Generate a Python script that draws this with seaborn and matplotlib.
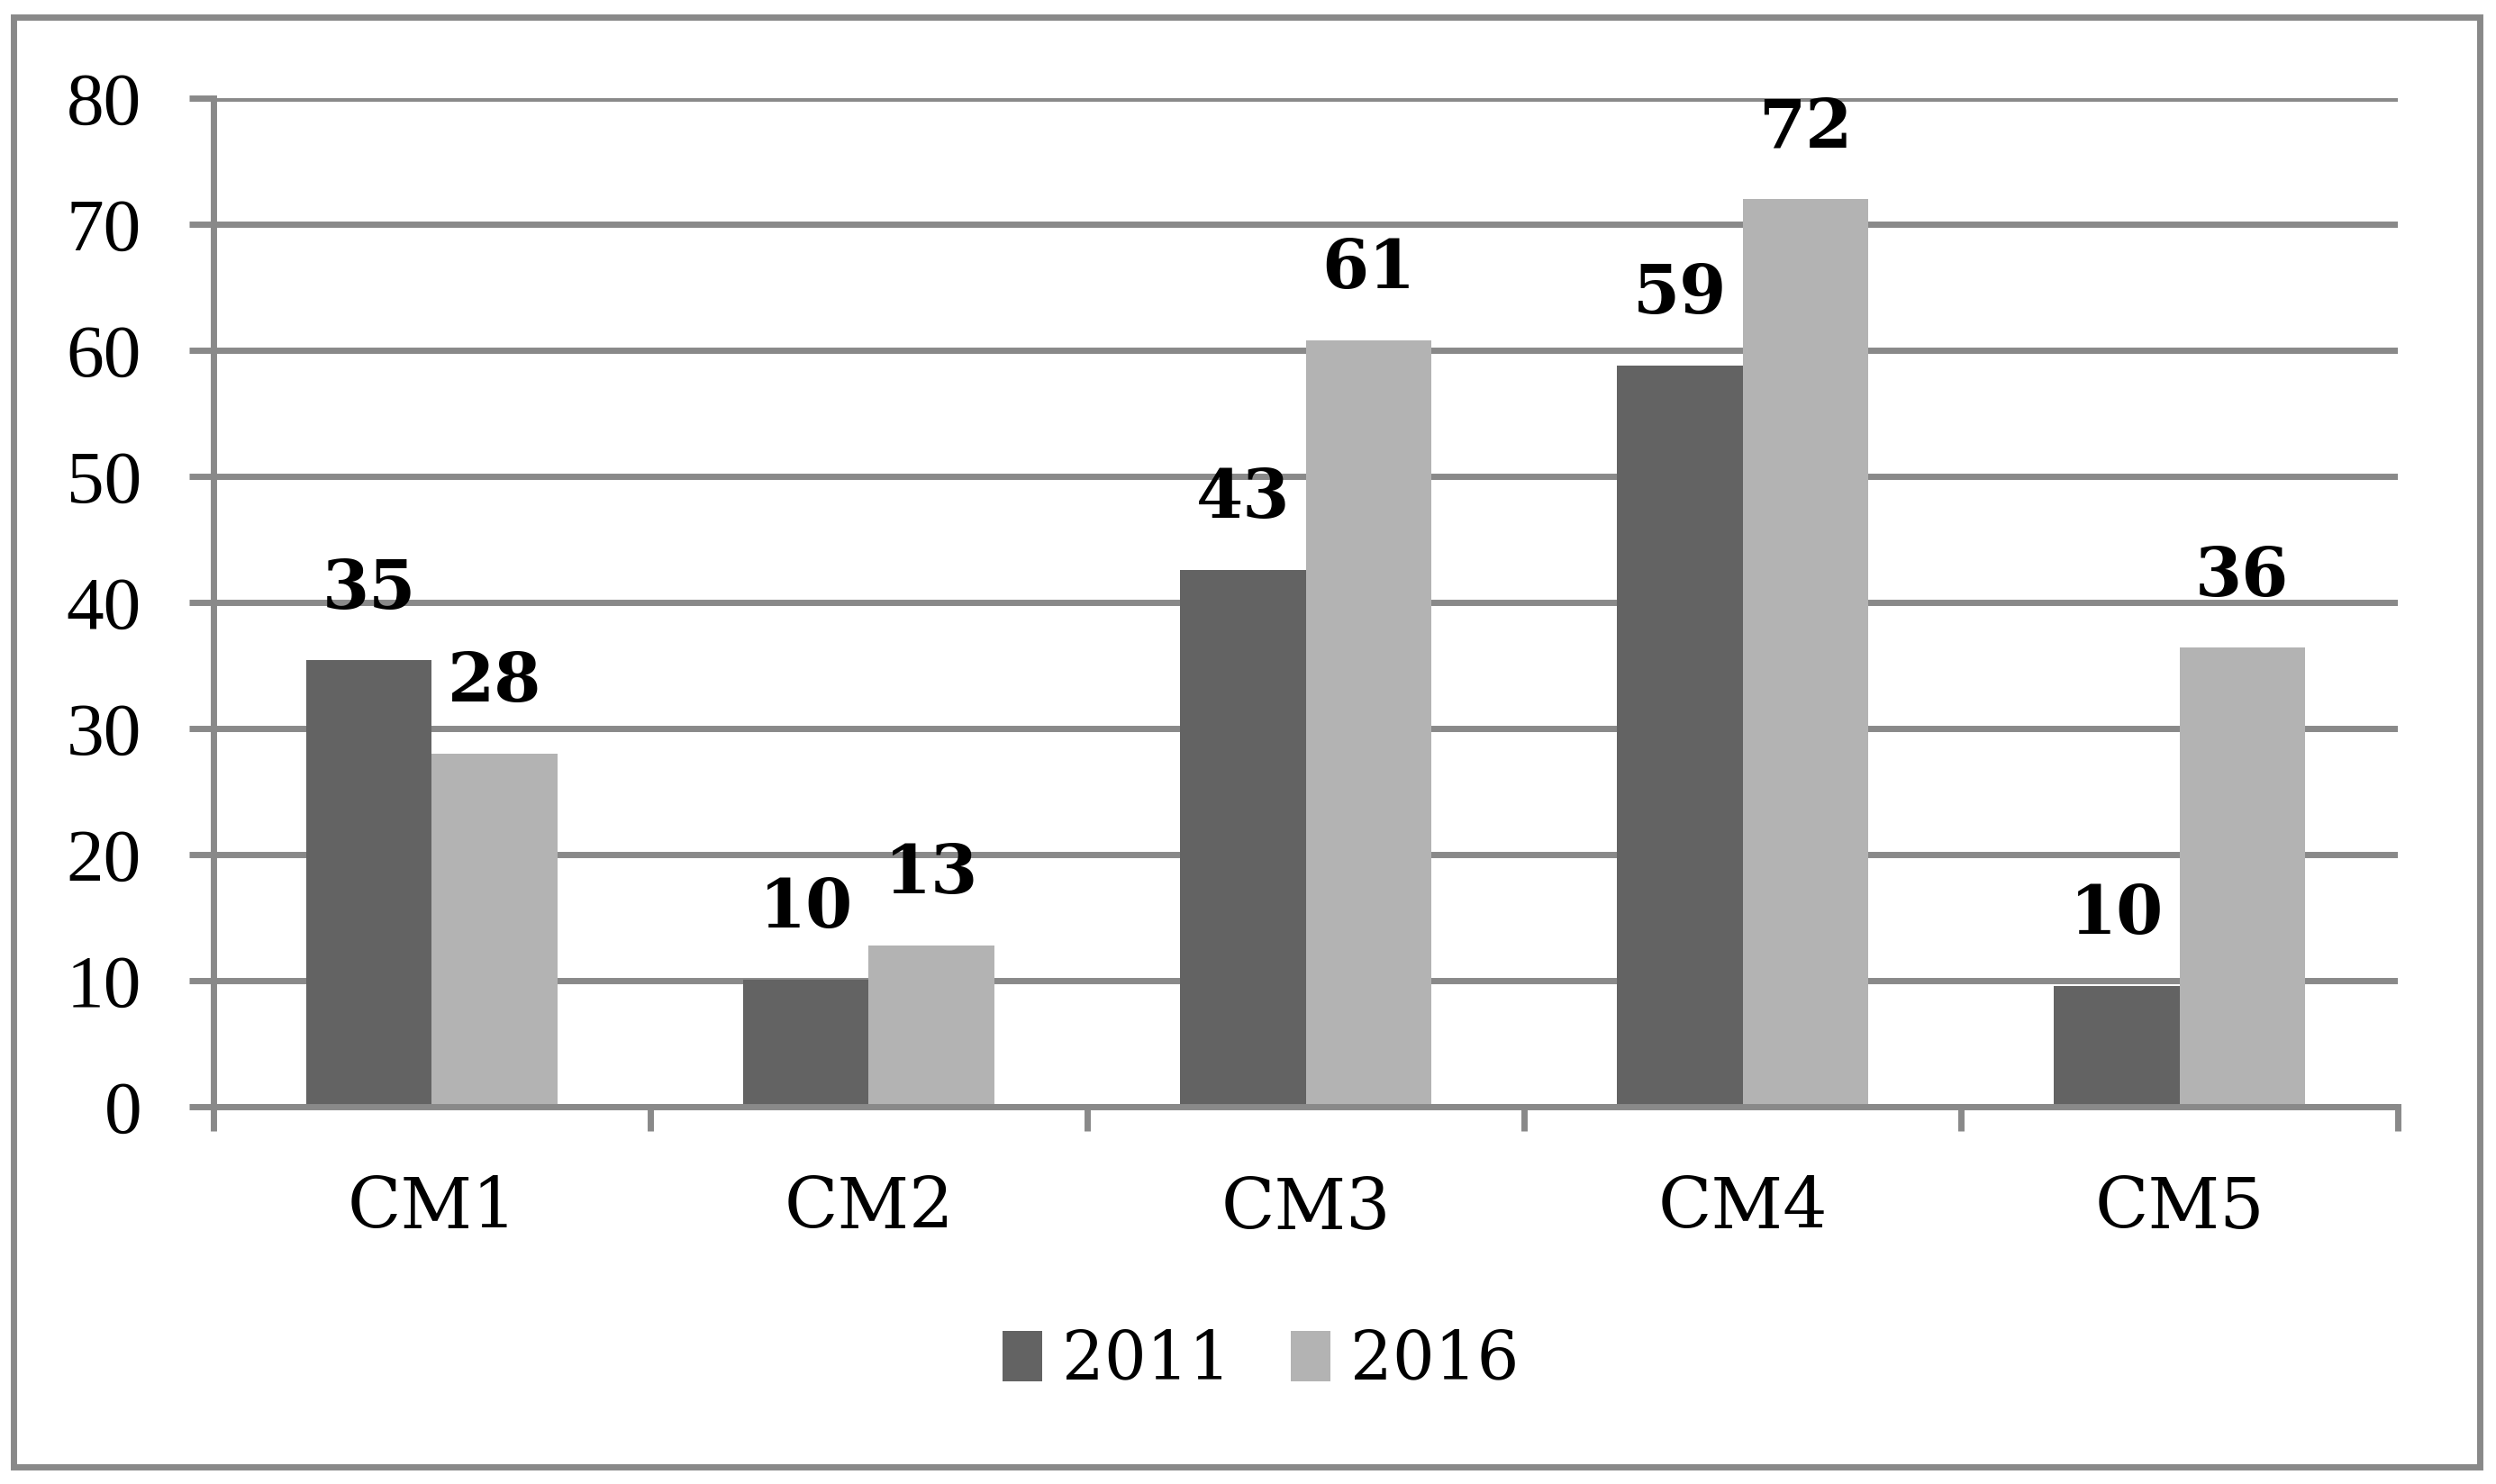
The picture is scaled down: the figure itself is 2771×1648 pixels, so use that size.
import pandas as pd
import seaborn as sns
import matplotlib.pyplot as plt
from matplotlib.patches import Rectangle

# data
categories = ["CM1", "CM2", "CM3", "CM4", "CM5"]
years = ["2011", "2016"]
values_2011 = [35.4, 10.1, 42.6, 58.8, 9.6]
values_2016 = [28.0, 12.8, 60.8, 72.0, 36.4]
y_ticks = [0, 10, 20, 30, 40, 50, 60, 70, 80]

colors = {"2011": "#636363", "2016": "#b3b3b3"}
line_gray = "#898989"

df = pd.DataFrame({
    "category": categories * 2,
    "year": [years[0]] * len(categories) + [years[1]] * len(categories),
    "value": values_2011 + values_2016,
})

sns.set_style("white")
plt.rcParams["font.family"] = ["DejaVu Serif"]
plt.rcParams["text.color"] = "black"
plt.rcParams["xtick.color"] = "black"
plt.rcParams["ytick.color"] = "black"

fig = plt.figure(figsize=(27.71, 16.48), dpi=100)
ax = fig.add_axes([0.0855, 0.2543, 0.8752, 0.6796])

sns.barplot(data=df, x="category", y="value", hue="year", order=categories,
            hue_order=years, palette=colors, width=0.575, gap=0,
            saturation=1, linewidth=0, ax=ax)

# value labels above bars
for container in ax.containers:
    for bar in container:
        h = bar.get_height()
        ax.annotate(f"{h:.0f}", xy=(bar.get_x() + bar.get_width() / 2, h),
                    xytext=(0, 30), textcoords="offset points",
                    ha="center", va="bottom", fontsize=54,
                    fontweight="bold", color="black")

ax.set_ylim(0, 80)
ax.set_xlim(-0.5, len(categories) - 0.5)
ax.set_yticks(y_ticks)
ax.set_yticklabels([str(t) for t in y_ticks], family="Liberation Serif", fontsize=60)
ax.set_xticks(range(len(categories)))
ax.set_xticklabels(categories, fontsize=56)
ax.set_xticks([i - 0.5 for i in range(len(categories) + 1)], minor=True)
ax.tick_params(axis="x", which="major", bottom=True, length=0, pad=54)
ax.tick_params(axis="x", which="minor", bottom=True, length=19.5, width=5, color=line_gray)
ax.tick_params(axis="y", left=True, length=19.5, width=5, color=line_gray, pad=38)
ax.set_xlabel("")
ax.set_ylabel("")

ax.yaxis.grid(True, color=line_gray, linewidth=5)
ax.set_axisbelow(True)
for side in ["top", "right"]:
    ax.spines[side].set_visible(False)
for side in ["left", "bottom"]:
    ax.spines[side].set_color(line_gray)
    ax.spines[side].set_linewidth(5)

handles, labels = ax.get_legend_handles_labels()
ax.legend_.remove()
fig.legend(handles, labels, loc="center", bbox_to_anchor=(0.505, 0.083), ncol=2,
           frameon=False, fontsize=53, handlelength=0.6, handleheight=0.8,
           handletextpad=0.3, columnspacing=0.9)

# outer chart border
fig.patches.append(Rectangle((0.0054, 0.0115), 0.988, 0.977, transform=fig.transFigure,
                             fill=False, edgecolor=line_gray, linewidth=5))

fig.savefig("out.png", dpi=100, facecolor="white")
